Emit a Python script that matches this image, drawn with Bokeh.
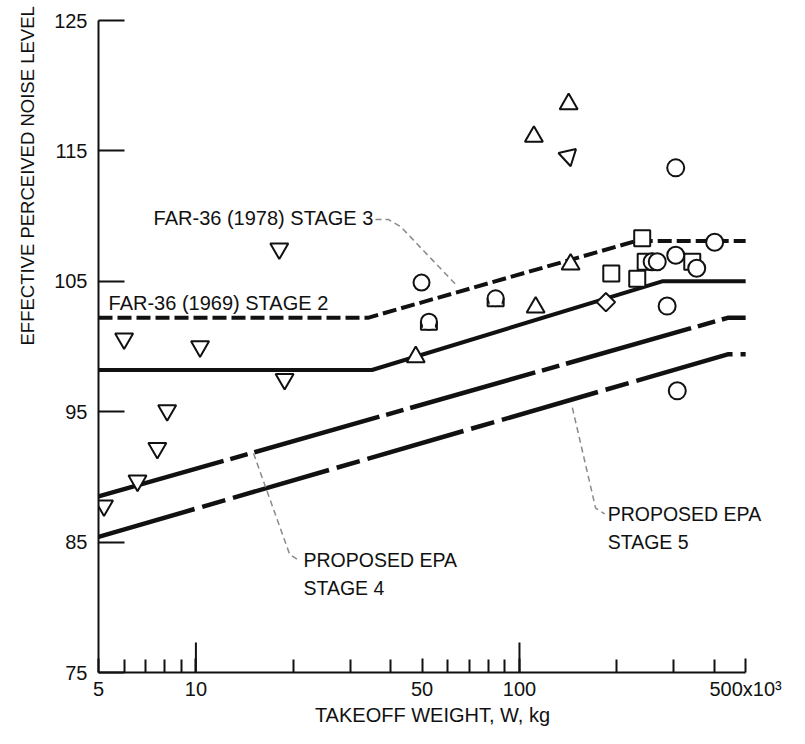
import math
from bokeh.plotting import figure
from bokeh.models import Range1d, FixedTicker, Title
from bokeh.embed import file_html
from bokeh.resources import INLINE
from bokeh.core.properties import value

# ---------------- data: takeoff weight W (10^3 kg) vs EPNL (EPNdB) ----------------
stage3_w = [5, 34, 230, 500]
stage3_epnl = [102.2, 102.2, 108.1, 108.1]
stage2_w = [5, 35, 276, 500]
stage2_epnl = [98.2, 98.2, 105.0, 105.0]
epa4_w = [5, 440, 500]
epa4_epnl = [88.5, 102.2, 102.2]
epa5_w = [5, 440, 500]
epa5_epnl = [85.4, 99.4, 99.4]

invtri_w = [18.1, 6.0, 10.3, 18.8, 8.15, 7.6, 6.6, 5.2]
invtri_epnl = [107.5, 100.6, 100.0, 97.5, 95.1, 92.2, 89.7, 87.8]
tilt_w = [141.6]
tilt_epnl = [114.6]
tri_w = [141.9, 110.8, 143.9, 112.2, 47.8]
tri_epnl = [118.6, 116.1, 106.3, 103.0, 99.2]
tomb_w = [84.4, 52.5]
tomb_epnl = [103.7, 101.9]
shield_w = [49.8]
shield_epnl = [104.9]
square_w = [239.5, 192.2, 231.2, 245.5, 342.0]
square_epnl = [108.3, 105.6, 105.2, 106.5, 106.5]
circle_w = [304.0, 401.0, 304.0, 257.0, 266.6, 353.0, 286.0, 307.4]
circle_epnl = [113.7, 108.0, 107.0, 106.5, 106.5, 106.0, 103.1, 96.6]
diamond_w = [185.0]
diamond_epnl = [103.4]

x_major = [5, 10, 50, 100, 500]
x_major_labels = ["5", "10", "50", "100", "500x10\u00b3"]
x_minor = [6, 7, 8, 9, 20, 30, 40, 60, 70, 80, 90, 200, 300, 400]
x_long = [10, 100]
y_major = [75, 85, 95, 105, 115, 125]
y_major_labels = ["75", "85", "95", "105", "115", "125"]

FONT = "Liberation Sans"
INK = "#111111"
GREY = "#8a8a8a"

# the frame runs a little past 500 so the right-hand label is not clipped;
# the axis itself is bounded to 5..500
p = figure(width=789, height=728, x_axis_type="log",
           x_range=Range1d(5, 580), y_range=Range1d(75, 125),
           output_backend="svg", toolbar_location=None,
           min_border_left=98, min_border_right=23, min_border_top=20, min_border_bottom=49)
p.outline_line_color = None
p.grid.visible = False
p.background_fill_color = "white"
p.border_fill_color = "white"

xa = p.xaxis[0]
xa.bounds = (x_major[0], x_major[-1])
xa.ticker = FixedTicker(ticks=x_major, minor_ticks=x_minor)
xa.major_label_overrides = dict(zip(x_major, x_major_labels))
xa.major_tick_in = 14
xa.major_tick_out = 0
xa.minor_tick_in = 13
xa.minor_tick_out = 0
xa.axis_line_width = 2
xa.major_tick_line_width = 2
xa.minor_tick_line_width = 2
xa.axis_line_color = INK
xa.major_tick_line_color = INK
xa.minor_tick_line_color = INK
xa.major_label_text_font = FONT
xa.major_label_text_font_size = "20px"
xa.major_label_text_color = INK
xa.major_label_standoff = 5
xa.axis_label = "TAKEOFF WEIGHT, W, kg"
xa.axis_label_text_font = FONT
xa.axis_label_text_font_size = "20px"
xa.axis_label_text_font_style = "normal"
xa.axis_label_text_color = INK
xa.axis_label_standoff = 1

ya = p.yaxis[0]
ya.ticker = FixedTicker(ticks=y_major, minor_ticks=[])
ya.major_label_overrides = dict(zip(y_major, y_major_labels))
ya.major_tick_in = 26
ya.major_tick_out = 0
ya.minor_tick_in = 0
ya.minor_tick_out = 0
ya.axis_line_width = 2
ya.major_tick_line_width = 2
ya.axis_line_color = INK
ya.major_tick_line_color = INK
ya.major_label_text_font = FONT
ya.major_label_text_font_size = "20px"
ya.major_label_text_color = INK
ya.major_label_standoff = 11

# y-axis title: starts half way up and runs toward the top edge, as in the original
p.add_layout(Title(text="EFFECTIVE PERCEIVED NOISE LEVEL", align="left", offset=327,
                   text_font=FONT, text_font_size="18.5px", text_font_style="normal",
                   text_color=INK, standoff=28), "left")

# longer ticks at 10 and 100
y0 = p.y_range.start
long_tick = 2.3
p.segment(x0=x_long, y0=[y0] * len(x_long), x1=x_long, y1=[y0 + long_tick] * len(x_long),
          line_color=INK, line_width=2)

# regulation / proposal lines
p.line(stage3_w, stage3_epnl, line_color=INK, line_width=4, line_dash="14 5")
p.line(stage2_w, stage2_epnl, line_color=INK, line_width=4)
p.line(epa4_w, epa4_epnl, line_color=INK, line_width=4.5, line_dash="130 7 18 7")
p.line(epa5_w, epa5_epnl, line_color=INK, line_width=4.5, line_dash="100 8 24 8")

# leaders
p.line([35.9, 39.4, 42.9, 64.4], [109.73, 109.73, 109.2, 104.6], line_color=GREY, line_width=1.5, line_dash="6 4")
p.line([15.07, 19.5, 20.8], [91.8, 84.04, 83.6], line_color=GREY, line_width=1.5, line_dash="6 4")
p.line([145.7, 171.9, 183.3], [95.31, 87.61, 87.16], line_color=GREY, line_width=1.5, line_dash="6 4")

mk = dict(fill_color="white", line_color=INK, line_width=2)
p.scatter(invtri_w, invtri_epnl, marker="inverted_triangle", size=18, **mk)
p.scatter(tilt_w, tilt_epnl, marker="inverted_triangle", size=18, angle=0.22, **mk)
p.scatter(tri_w, tri_epnl, marker="triangle", size=18, **mk)
p.scatter(square_w, square_epnl, marker="square", size=16, **mk)
p.scatter(circle_w, circle_epnl, marker="circle", size=17, **mk)
p.scatter(diamond_w, diamond_epnl, marker="square", size=13, angle=math.pi / 4, **mk)
p.scatter(shield_w, shield_epnl, marker="circle", size=16, **mk)

# "tombstone" markers: flat bottom, rounded top
dy = (p.y_range.end - p.y_range.start) / 659.0
p.rect(tomb_w, [v - 4 * dy for v in tomb_epnl], width=16, height=8,
       width_units="screen", height_units="screen", **mk)
p.scatter(tomb_w, tomb_epnl, marker="circle", size=16, **mk)
p.rect(tomb_w, [v - 3.5 * dy for v in tomb_epnl], width=12, height=7,
       width_units="screen", height_units="screen", fill_color="white", line_color=None)

# curve labels
lab = dict(text_font=value(FONT), text_color=INK, text_align="left", text_baseline="middle")
p.text(x=[7.40], y=[109.88], text=["FAR-36 (1978) STAGE 3"], text_font_size="20px", **lab)
p.text(x=[5.37], y=[103.34], text=["FAR-36 (1969) STAGE 2"], text_font_size="20px", **lab)
p.text(x=[21.5, 21.5], y=[83.66, 81.46], text=["PROPOSED EPA", "STAGE 4"], text_font_size="19.5px", **lab)
p.text(x=[187.3, 187.3], y=[87.16, 85.03], text=["PROPOSED EPA", "STAGE 5"], text_font_size="19.5px", **lab)

open("out.html", "w").write(file_html(p, INLINE))
